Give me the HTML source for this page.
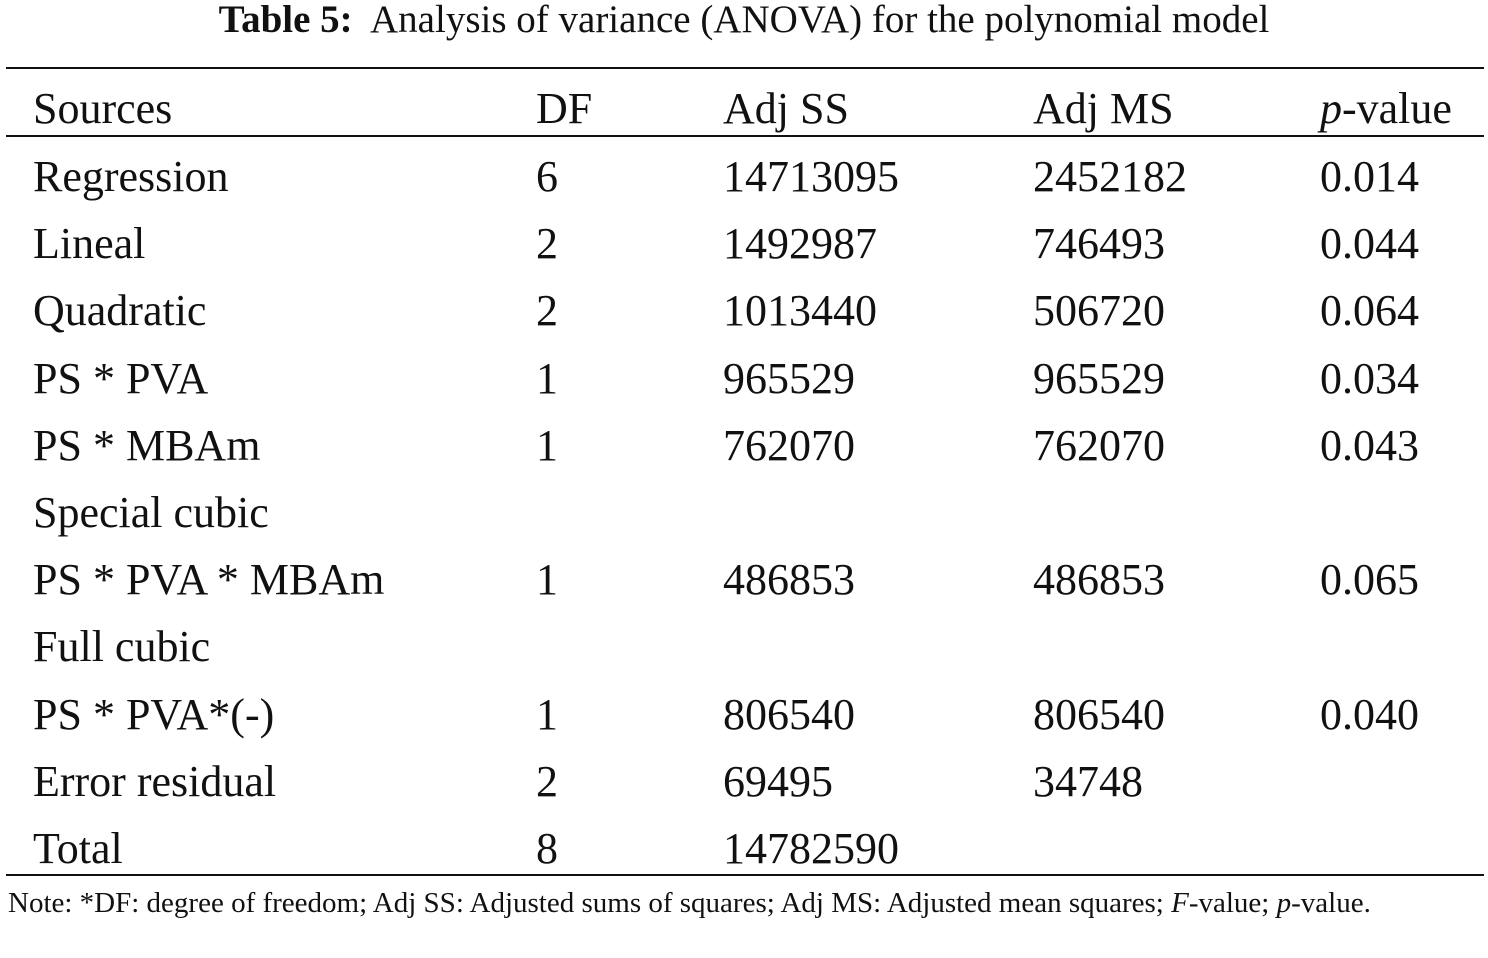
<!DOCTYPE html>
<html><head><meta charset="utf-8"><style>
body{margin:0;width:1488px;height:958px;background:#fff;position:relative;overflow:hidden;font-family:"Liberation Serif",serif;color:#111}
.t{position:absolute;white-space:nowrap;font-size:44px;line-height:1}
.rule{position:absolute;left:6px;width:1478px;background:#111}
#title{position:absolute;left:0;width:1488px;top:0;text-align:center;font-size:39px;line-height:1}
#note{position:absolute;left:8px;width:1475px;top:886px;font-size:29px;line-height:35px;text-align:justify;text-align-last:left}
</style></head><body>
<div id="title"><b>Table 5:</b>&nbsp; Analysis of variance (ANOVA) for the polynomial model</div>
<div class="rule" style="top:67px;height:2px"></div>
<div class="rule" style="top:135px;height:2px"></div>
<div class="rule" style="top:874px;height:2px"></div>
<div id="tbl"></div>
<div id="note">Note: *DF: degree of freedom; Adj SS: Adjusted sums of squares; Adj MS: Adjusted mean squares; <i>F</i>-value; <i>p</i>-value.</div>
<script>
const headers=["Sources","DF","Adj SS","Adj MS","<i>p</i>-value"];
const rows=[
["Regression","6","14713095","2452182","0.014"],
["Lineal","2","1492987","746493","0.044"],
["Quadratic","2","1013440","506720","0.064"],
["PS * PVA","1","965529","965529","0.034"],
["PS * MBAm","1","762070","762070","0.043"],
["Special cubic","","","",""],
["PS * PVA * MBAm","1","486853","486853","0.065"],
["Full cubic","","","",""],
["PS * PVA*(-)","1","806540","806540","0.040"],
["Error residual","2","69495","34748",""],
["Total","8","14782590","",""]];
const colX=[33,536,723,1033,1320];
const tbl=document.getElementById('tbl');
function cell(txt,x,y,name){const d=document.createElement('div');d.className='t';d.style.left=x+'px';d.style.top=y+'px';d.innerHTML=txt;


tbl.appendChild(d);}
headers.forEach((h,i)=>cell(h,i==4?colX[i]:colX[i],87,'header-'+i));
rows.forEach((r,ri)=>r.forEach((c,ci)=>{if(c)cell(c,colX[ci],155+ri*67.2,'cell-r'+ri+'-c'+ci);}));
</script>
</body></html>
